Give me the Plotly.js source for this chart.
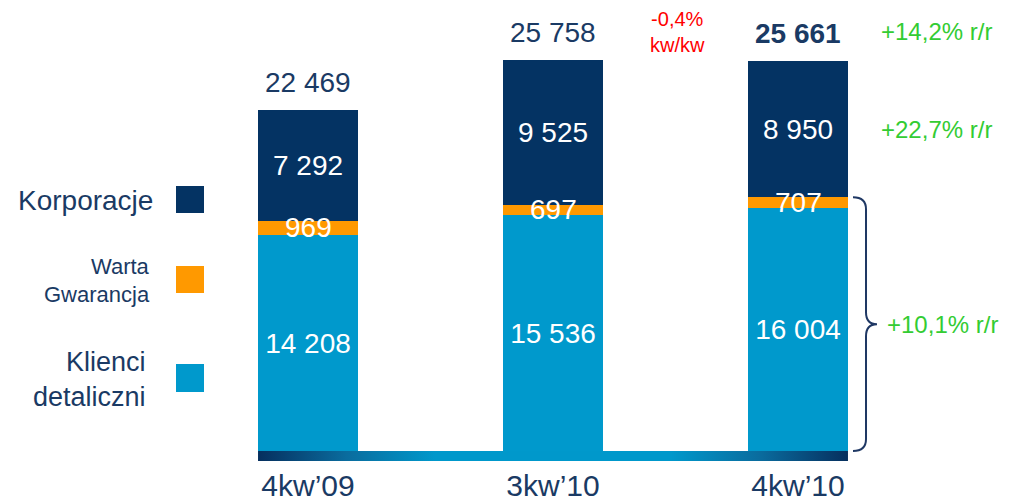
<!DOCTYPE html>
<html><head><meta charset="utf-8">
<script src="https://cdn.plot.ly/plotly-3.0.1.min.js"></script>
<style>html,body{margin:0;padding:0;background:#fff}#chart{width:1012px;height:503px}</style>
</head><body><div id="chart"></div>
<script>
// ---- data ----
const categories = ['4kw’09', '3kw’10', '4kw’10'];
const klienciDetaliczni = [14208, 15536, 16004];
const wartaGwarancja = [969, 697, 707];
const korporacje = [7292, 9525, 8950];
const totals = [22469, 25758, 25661];
const changeKwKw = '-0,4%<br>kw/kw';
const changeTotalRR = '+14,2% r/r';
const changeKorpRR = '+22,7% r/r';
const changeDetalRR = '+10,1% r/r';

// ---- style ----
const FONT = 'Liberation Sans, Arial, sans-serif';
const NAVY_TXT = '#1a3a64';
const C_KORP = '#043363';
const C_WARTA = '#ff9900';
const C_DETAL = '#0099cc';
const GREEN = '#33cc33';
const RED = '#ff0000';
const BAR_W = 0.408;
const xIdx = categories.map((c, i) => i);
const last = categories.length - 1;
const Y_RANGE = [-790, 29710];
const PX = (Y_RANGE[1] - Y_RANGE[0]) / 463; // data units per pixel
const fmt = n => String(n).replace(/\B(?=(\d{3})+(?!\d))/g, ' ');

function barTrace(name, vals, color, showText) {
  return {
    type: 'bar', name: name, x: xIdx, y: vals, width: BAR_W,
    marker: {color: color, line: {width: 0}},
    texttemplate: '%{y:,.0f}', textposition: showText ? 'inside' : 'none', insidetextanchor: 'middle',
    textangle: 0, constraintext: 'none', textfont: {family: FONT, size: 28, color: '#ffffff'},
    hoverinfo: 'skip', showlegend: false
  };
}

const baseX0 = xIdx[0] - BAR_W / 2, baseX1 = xIdx[last] + BAR_W / 2, baseT = 10 * PX;
const baseline = {
  type: 'scatter', mode: 'lines', x: [baseX0, baseX1, baseX1, baseX0, baseX0],
  y: [0, 0, -baseT, -baseT, 0], fill: 'toself', line: {width: 0},
  fillcolor: C_DETAL,
  fillgradient: {type: 'horizontal', colorscale: [
    [0, '#062f5e'], [0.15, '#0a6c9e'], [0.3, '#0098cb'], [0.7, '#0098cb'], [0.85, '#0a6c9e'], [1, '#062f5e']]},
  hoverinfo: 'skip', showlegend: false
};

const data = [
  barTrace('Klienci detaliczni', klienciDetaliczni, C_DETAL, true),
  barTrace('Warta Gwarancja', wartaGwarancja, C_WARTA, false),
  barTrace('Korporacje', korporacje, C_KORP, true),
  baseline
];

const annotations = [];
// labels of the thin orange segments, drawn on top so the next segment does not hide them
wartaGwarancja.forEach((v, i) => annotations.push({
  x: xIdx[i], y: klienciDetaliczni[i] + v / 2, xref: 'x', yref: 'y', text: fmt(v), showarrow: false,
  yanchor: 'middle', font: {family: FONT, size: 28, color: '#ffffff'}
}));
totals.forEach((t, i) => annotations.push({
  x: xIdx[i], y: t, xref: 'x', yref: 'y', text: fmt(t), showarrow: false,
  yanchor: 'bottom', yshift: 10,
  font: {family: FONT, size: 28, color: NAVY_TXT, weight: i === last ? 'bold' : 'normal'}
}));
annotations.push({x: 1.51, y: Math.max(...totals), xref: 'x', yref: 'y', text: changeKwKw,
  showarrow: false, yanchor: 'bottom', yshift: 2, font: {family: FONT, size: 20, color: RED}});
annotations.push({x: last + 0.567, y: totals[last], xref: 'x', yref: 'y', text: changeTotalRR,
  showarrow: false, yanchor: 'bottom', yshift: 14, font: {family: FONT, size: 24, color: GREEN}});
const lowerTop = klienciDetaliczni[last] + wartaGwarancja[last];
annotations.push({x: last + 0.567, y: lowerTop + korporacje[last] / 2, xref: 'x', yref: 'y', text: changeKorpRR,
  showarrow: false, yanchor: 'middle', font: {family: FONT, size: 24, color: GREEN}});
annotations.push({x: last + 0.355, y: lowerTop / 2, xref: 'x', yref: 'y', text: changeDetalRR,
  showarrow: false, xanchor: 'left', yanchor: 'middle', font: {family: FONT, size: 24, color: GREEN}});

// legend (text on the left, swatch on the right)
const legendRows = [
  {lines: [['Korporacje', 200, 28, 155]], sw: [186, 213], color: C_KORP},
  {lines: [['Warta', 266, 22, 152], ['Gwarancja', 294, 22, 152]], sw: [266, 293], color: C_WARTA},
  {lines: [['Klienci<br>detaliczni', 379, 27, 148]], sw: [364, 392], color: C_DETAL}
];
const shapes = [];
const py = p => (463 - p) / 463;
legendRows.forEach(r => {
  r.lines.forEach(([txt, yy, sz, xr]) => annotations.push({
    x: xr / 1012, y: py(yy), xref: 'paper', yref: 'paper', text: txt, showarrow: false,
    xanchor: 'right', yanchor: 'middle', align: 'right', font: {family: FONT, size: sz, color: NAVY_TXT}
  }));
  shapes.push({type: 'rect', xref: 'paper', yref: 'paper', x0: 176 / 1012, x1: 204 / 1012,
    y0: py(r.sw[1]), y1: py(r.sw[0]), fillcolor: r.color, line: {width: 0}});
});

// curly brace next to the lower two segments of the last bar
const bx0 = last + 0.2245, bx1 = last + 0.2776, bx2 = last + 0.3224;
const bTop = lowerTop, bBot = 0, bMid = (bTop + bBot) / 2, d = 12 * PX;
shapes.push({
  type: 'path', xref: 'x', yref: 'y', line: {color: '#1f3864', width: 2},
  path: `M ${bx0},${bTop} Q ${bx1},${bTop} ${bx1},${bTop - d} L ${bx1},${bMid + d} ` +
        `Q ${bx1},${bMid} ${bx2},${bMid} Q ${bx1},${bMid} ${bx1},${bMid - d} ` +
        `L ${bx1},${bBot + d} Q ${bx1},${bBot} ${bx0},${bBot}`
});

const layout = {
  width: 1012, height: 503,
  margin: {l: 0, r: 0, t: 0, b: 40},
  paper_bgcolor: '#ffffff', plot_bgcolor: '#ffffff',
  barmode: 'stack', separators: ', ',
  xaxis: {range: [-308 / 245, (1012 - 308) / 245], tickvals: xIdx, ticktext: categories,
    showgrid: false, zeroline: false, showline: false, ticks: '',
    ticklabelstandoff: 2, tickfont: {family: FONT, size: 30, color: NAVY_TXT}, fixedrange: true},
  yaxis: {range: Y_RANGE, visible: false, showgrid: false, zeroline: false, fixedrange: true},
  annotations: annotations, shapes: shapes, showlegend: false
};

Plotly.newPlot('chart', data, layout, {displayModeBar: false, staticPlot: true});
</script>
</body></html>
